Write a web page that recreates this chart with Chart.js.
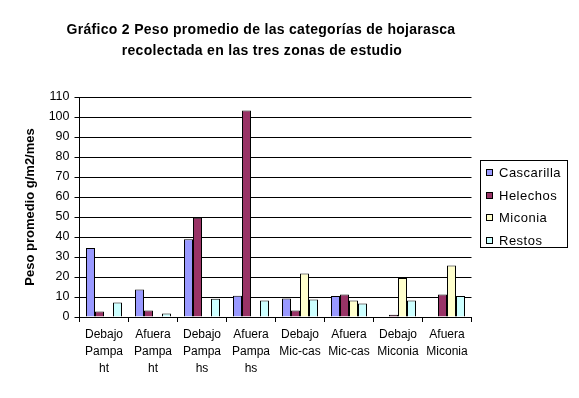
<!DOCTYPE html>
<html><head><meta charset="utf-8">
<script src="https://cdn.jsdelivr.net/npm/chart.js@4/dist/chart.umd.min.js"></script>
<style>html,body{margin:0;padding:0;background:#fff}#wrap{width:579px;height:398px;position:relative}</style>
</head><body><div id="wrap"><canvas id="c" width="579" height="398"></canvas></div>
<script>
const titleLines = ['Gráfico 2 Peso promedio de las categorías de hojarasca', 'recolectada en las tres zonas de estudio'];
const yAxisTitle = 'Peso promedio g/m2/mes';
const categories = [['Debajo','Pampa','ht'],['Afuera','Pampa','ht'],['Debajo','Pampa','hs'],['Afuera','Pampa','hs'],['Debajo','Mic-cas'],['Afuera','Mic-cas'],['Debajo','Miconia'],['Afuera','Miconia']];
const seriesNames = ['Cascarilla','Helechos','Miconia','Restos'];
const cascarilla = [34.5, 13.8, 38.9, 10.6, 9.2, 10.5, 0, 0];
const helechos   = [2.8, 3.2, 49.6, 103.2, 3.3, 11.2, 1.1, 11.2];
const miconia    = [0, 0, 0, 0, 21.8, 8.2, 19.5, 25.8];
const restos     = [7.3, 1.8, 9.1, 8.3, 8.7, 6.7, 8.2, 10.5];
const yTickMin = 0, yTickMax = 110, yTickStep = 10;
const seriesColors = ['#9999FF','#993366','#FFFFCC','#CCFFFF'];
const FONT = '"Liberation Sans", Arial, sans-serif';

const seriesValues = [cascarilla, helechos, miconia, restos];

const decorPlugin = {
  id: 'decor',
  afterDraw(chart) {
    const ctx = chart.ctx;
    const ca = chart.chartArea;
    ctx.save();
    ctx.fillStyle = '#000';
    ctx.font = 'bold 14px ' + FONT;
    try { ctx.letterSpacing = '0.3px'; } catch(e) {}
    ctx.textAlign = 'center';
    ctx.textBaseline = 'alphabetic';
    ctx.fillText(titleLines[0], 261, 34);
    ctx.fillText(titleLines[1], 262, 55);
    try { ctx.letterSpacing = '0.5px'; } catch(e) {}
    const bx = 480, by = 160, bw = 87, bh = 87;
    ctx.strokeStyle = '#000';
    ctx.lineWidth = 1;
    ctx.strokeRect(bx + 0.5, by + 0.5, bw, bh);
    ctx.font = '13px ' + FONT;
    ctx.textAlign = 'left';
    ctx.textBaseline = 'middle';
    chart.data.datasets.forEach((ds, i) => {
      const cy = Math.round(172 + i * 22.5);
      ctx.fillStyle = ds.backgroundColor;
      ctx.fillRect(bx + 6, cy - 3, 6, 6);
      ctx.strokeStyle = '#000';
      ctx.strokeRect(bx + 6.5, cy - 2.5, 6, 6);
      ctx.fillStyle = '#000';
      ctx.fillText(ds.label, bx + 19, cy + 1);
    });
    ctx.restore();
  }
};

new Chart(document.getElementById('c'), {
  type: 'bar',
  data: {
    labels: categories,
    datasets: seriesNames.map((n, i) => ({
      label: n,
      data: seriesValues[i],
      backgroundColor: seriesColors[i],
      borderColor: '#000',
      borderWidth: c => (c.raw ? 1 : 0),
      categoryPercentage: 36 / 49,
      barPercentage: 1,
      inflateAmount: 0
    }))
  },
  options: {
    responsive: false,
    animation: false,
    devicePixelRatio: 1,
    layout: { padding: { top: 97, right: 107.5, bottom: 0, left: 0 } },
    plugins: { legend: { display: false }, title: { display: false }, tooltip: { enabled: false } },
    scales: {
      x: {
        grid: { display: true, drawOnChartArea: false, drawTicks: true, tickLength: 5, color: '#000', offset: true },
        border: { color: '#000', width: 1 },
        ticks: { color: '#000', font: { family: FONT, size: 12, lineHeight: 1.42 }, maxRotation: 0, autoSkip: false, padding: 4 },
        afterFit: s => { s.height = 398 - 317; }
      },
      y: {
        min: yTickMin, max: yTickMax,
        ticks: { stepSize: yTickStep, color: '#000', font: { family: FONT, size: 12.5 }, padding: 5 },
        grid: { color: '#000', lineWidth: 1, tickLength: 5, drawTicks: true },
        border: { color: '#000', width: 1 },
        title: { display: true, text: yAxisTitle, color: '#000', font: { family: FONT, size: 13, weight: 'bold' }, padding: { top: 23, bottom: 0 } },
        afterFit: s => { s.width = 79.5; }
      }
    }
  },
  plugins: [decorPlugin]
});
</script>
</body></html>
